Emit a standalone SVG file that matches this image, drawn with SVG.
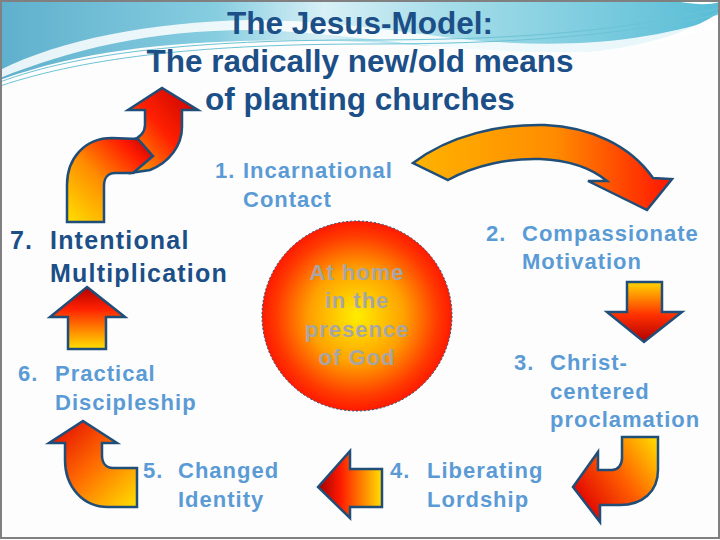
<svg xmlns="http://www.w3.org/2000/svg" width="720" height="540" viewBox="0 0 720 540">
<defs>
<linearGradient id="sky" x1="0" y1="0" x2="1" y2="0">
<stop offset="0" stop-color="#5fb0cd"/>
<stop offset="0.3" stop-color="#86cde0"/>
<stop offset="0.45" stop-color="#d8f0f6"/>
<stop offset="0.62" stop-color="#a6dde9"/>
<stop offset="1" stop-color="#58bdd6"/>
</linearGradient>
<linearGradient id="gA" x1="0" y1="1" x2="1" y2="0">
<stop offset="0" stop-color="#ffe000"/>
<stop offset="0.45" stop-color="#ff8c00"/>
<stop offset="0.8" stop-color="#ff1a00"/>
<stop offset="1" stop-color="#b00000"/>
</linearGradient>
<linearGradient id="gB" x1="0" y1="1" x2="1" y2="0">
<stop offset="0" stop-color="#ffb000"/>
<stop offset="0.5" stop-color="#ff2000"/>
<stop offset="1" stop-color="#c00000"/>
</linearGradient>
<linearGradient id="gArc" x1="0" y1="0" x2="1" y2="0">
<stop offset="0" stop-color="#ffb300"/>
<stop offset="0.55" stop-color="#ff8c00"/>
<stop offset="1" stop-color="#ff1500"/>
</linearGradient>
<linearGradient id="gDown" x1="0" y1="0" x2="0" y2="1">
<stop offset="0" stop-color="#ffd700"/>
<stop offset="0.55" stop-color="#ff3000"/>
<stop offset="1" stop-color="#b00000"/>
</linearGradient>
<linearGradient id="gCurlL" x1="1" y1="0" x2="0" y2="0.7">
<stop offset="0" stop-color="#ffe000"/>
<stop offset="0.5" stop-color="#ff6000"/>
<stop offset="1" stop-color="#e00000"/>
</linearGradient>
<linearGradient id="gLeft" x1="0" y1="0" x2="1" y2="0">
<stop offset="0" stop-color="#a00000"/>
<stop offset="0.35" stop-color="#ff1a00"/>
<stop offset="1" stop-color="#ffe000"/>
</linearGradient>
<linearGradient id="gCurlU" x1="0" y1="0" x2="1" y2="1">
<stop offset="0" stop-color="#e00000"/>
<stop offset="0.5" stop-color="#ff6a00"/>
<stop offset="1" stop-color="#ffe000"/>
</linearGradient>
<linearGradient id="gUp" x1="0" y1="0" x2="0" y2="1">
<stop offset="0" stop-color="#b00000"/>
<stop offset="0.35" stop-color="#ff2000"/>
<stop offset="1" stop-color="#ffe000"/>
</linearGradient>
<radialGradient id="gSun" cx="0.5" cy="0.5" r="0.5">
<stop offset="0" stop-color="#ffee00"/>
<stop offset="0.5" stop-color="#ffa000"/>
<stop offset="0.85" stop-color="#ff3a00"/>
<stop offset="1" stop-color="#ff1a00"/>
</radialGradient>
<style>
.arrow{stroke:#1f4e79;stroke-width:2.5;stroke-linejoin:miter}
.title{font-family:"Liberation Sans",Arial,sans-serif;font-weight:bold;font-size:31.5px;fill:#1c4f87;text-anchor:middle}
.lbl{font-family:"Liberation Sans",Arial,sans-serif;font-weight:bold;font-size:22px;letter-spacing:1px;fill:#5b9bd5}
.lbl7{font-family:"Liberation Sans",Arial,sans-serif;font-weight:bold;font-size:25px;letter-spacing:1.2px;fill:#1c4f87}
.sun{font-family:"Liberation Sans",Arial,sans-serif;font-weight:bold;font-size:22px;letter-spacing:1px;fill:#a6a6a6;text-anchor:middle}
.wave{fill:none;stroke:#6cc3d5;stroke-width:1}
</style>
</defs>
<rect x="0" y="0" width="720" height="540" fill="#fdfdfd"/>
<g id="background">
<path d="M0,0 H720 V12 C690,32 640,50 575,52 C500,54 430,44 360,42 C240,38 110,40 0,80 Z" fill="url(#sky)"/>
<path d="M0,70 C60,40 150,22 250,20 C330,20 400,32 470,40 C560,48 640,44 720,18 V26 C640,52 560,58 470,50 C400,44 330,32 250,30 C150,30 70,50 0,78 Z" fill="#ffffff" opacity="0.85"/>
<path class="wave" d="M0,82 C80,52 200,40 360,40 C500,40 610,34 720,8"/>
<path class="wave" d="M0,86 C90,56 210,44 370,44 C510,44 620,36 720,14"/>
<path d="M670,0 C690,4 705,6 720,2 V0 Z" fill="#ffffff"/>
<rect x="1" y="1" width="718" height="537" fill="none" stroke="#808080" stroke-width="2"/>
</g>
<g id="title">
<text class="title" x="360" y="34">The Jesus-Model:</text>
<text class="title" x="360" y="72">The radically new/old means</text>
<text class="title" x="360" y="110">of planting churches</text>
</g>
<g id="center">
<circle cx="357" cy="316" r="95" fill="url(#gSun)" stroke="#1f4e79" stroke-width="1" stroke-dasharray="2,2"/>
<text class="sun" x="357" y="280">At home</text>
<text class="sun" x="357" y="308">in the</text>
<text class="sun" x="357" y="337">presence</text>
<text class="sun" x="357" y="365">of God</text>
</g>
<g id="connectors">
<path class="arrow" fill="url(#gB)" d="M130,173 L150,170 C170,162 182,145 182,127 L182,110 L198,110 L162,88 L128,110 L145,110 L145,125 C145,132 140,138 132,140 Z"/>
<path class="arrow" fill="url(#gA)" d="M67,222 L67,185 C67,158 85,138 112,138 L138,139 L153,156 L133,173 L115,173 C108,173 104,178 104,186 L104,222 Z"/>
<path class="arrow" fill="url(#gArc)" d="M413,163 C450,135 500,124 545,125 C590,127 630,145 653,178 L672,179 L647,210 L588,181 L607,181 C590,167 565,160 540,159 C510,158 475,165 448,180 Z"/>
<path class="arrow" fill="url(#gDown)" d="M627,282 H662 V312 H682 L644,342 L607,312 H627 Z"/>
<path class="arrow" fill="url(#gCurlL)" d="M622,437 H658 V470 C658,492 642,505 620,505 H600 V522 L573,487 L598,452 V470 H612 C618,470 622,465 622,458 Z"/>
<path class="arrow" fill="url(#gLeft)" d="M318,487 L350,451 V469 H382 V507 H350 V518 Z"/>
<path class="arrow" fill="url(#gCurlU)" d="M83,421 L117,443 H102 V455 C102,463 106,468 113,468 H137 V507 H108 C83,507 65,487 65,460 V443 H49 Z"/>
<path class="arrow" fill="url(#gUp)" d="M87,287 L125,317 H106 V349 H68 V317 H50 Z"/>
</g>
<g id="step1"><text class="lbl" y="178"><tspan x="215">1.</tspan><tspan x="243">Incarnational</tspan></text><text class="lbl" x="243" y="207">Contact</text></g>
<g id="step2"><text class="lbl" y="241"><tspan x="486">2.</tspan><tspan x="522">Compassionate</tspan></text><text class="lbl" x="522" y="269">Motivation</text></g>
<g id="step3"><text class="lbl" y="370"><tspan x="514">3.</tspan><tspan x="550">Christ-</tspan></text><text class="lbl" x="550" y="399">centered</text><text class="lbl" x="550" y="427">proclamation</text></g>
<g id="step4"><text class="lbl" y="478"><tspan x="390">4.</tspan><tspan x="427">Liberating</tspan></text><text class="lbl" x="427" y="507">Lordship</text></g>
<g id="step5"><text class="lbl" y="478"><tspan x="143">5.</tspan><tspan x="178">Changed</tspan></text><text class="lbl" x="178" y="507">Identity</text></g>
<g id="step6"><text class="lbl" y="381"><tspan x="18">6.</tspan><tspan x="55">Practical</tspan></text><text class="lbl" x="55" y="410">Discipleship</text></g>
<g id="step7"><text class="lbl7" y="249"><tspan x="10">7.</tspan><tspan x="50">Intentional</tspan></text><text class="lbl7" x="50" y="282">Multiplication</text></g>
</svg>
